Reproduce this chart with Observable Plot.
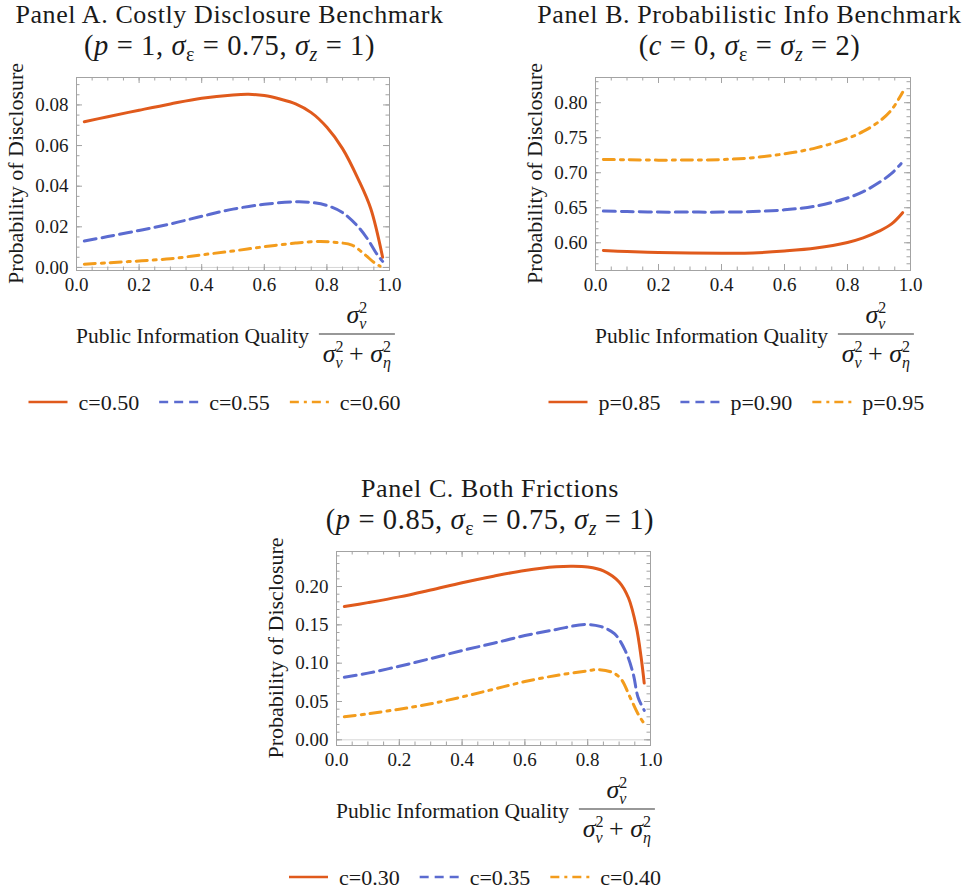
<!DOCTYPE html>
<html><head><meta charset="utf-8">
<script src="https://cdn.jsdelivr.net/npm/d3@7"></script>
<script src="https://cdn.jsdelivr.net/npm/@observablehq/plot@0.6"></script>
<style>
html,body{margin:0;padding:0;background:#fff;}
#root{position:relative;width:969px;height:890px;overflow:hidden;background:#fff;}
#root svg{position:absolute;}
</style></head><body><div id="root"></div>
<script>
// ---------- shared axis ticks ----------
const xMajorTicks = [0, 0.2, 0.4, 0.6, 0.8, 1.0];
const xTickLabels = ["0.0", "0.2", "0.4", "0.6", "0.8", "1.0"];

// ---------- Panel A: Costly Disclosure Benchmark ----------
const yTicksA = [0, 0.02, 0.04, 0.06, 0.08];
const yTickLabelsA = ["0.00", "0.02", "0.04", "0.06", "0.08"];
const seriesNamesA = ["c=0.50", "c=0.55", "c=0.60"];
const xA_050 = [0.025, 0.1, 0.2, 0.3, 0.4, 0.5, 0.55, 0.6, 0.65, 0.7, 0.75, 0.8, 0.85, 0.9, 0.94, 0.978];
const yA_050 = [0.0717, 0.0742, 0.0774, 0.0805, 0.0833, 0.0849, 0.0852, 0.0846, 0.0829, 0.0805, 0.0762, 0.0690, 0.0585, 0.0435, 0.0290, 0.0050];
const xA_055 = [0.025, 0.1, 0.2, 0.3, 0.4, 0.5, 0.6, 0.7, 0.75, 0.8, 0.85, 0.9, 0.93, 0.96, 0.978];
const yA_055 = [0.0130, 0.0152, 0.0182, 0.0214, 0.0252, 0.0287, 0.0311, 0.0323, 0.0320, 0.0305, 0.0270, 0.0200, 0.0140, 0.0065, 0.0030];
const xA_060 = [0.025, 0.1, 0.2, 0.3, 0.4, 0.5, 0.6, 0.7, 0.78, 0.83, 0.88, 0.92, 0.95, 0.97];
const yA_060 = [0.0016, 0.0023, 0.0032, 0.0043, 0.0062, 0.0081, 0.0102, 0.0120, 0.0128, 0.0123, 0.0110, 0.0065, 0.0025, 0.0006];

// ---------- Panel B: Probabilistic Info Benchmark ----------
const yTicksB = [0.60, 0.65, 0.70, 0.75, 0.80];
const yTickLabelsB = ["0.60", "0.65", "0.70", "0.75", "0.80"];
const seriesNamesB = ["p=0.85", "p=0.90", "p=0.95"];
const xB_085 = [0.025, 0.1, 0.2, 0.3, 0.4, 0.5, 0.6, 0.7, 0.8, 0.85, 0.9, 0.94, 0.975];
const yB_085 = [0.5889, 0.5875, 0.5862, 0.5855, 0.5852, 0.5855, 0.5882, 0.5925, 0.6005, 0.6070, 0.6165, 0.6270, 0.6430];
const xB_090 = [0.025, 0.1, 0.2, 0.3, 0.4, 0.5, 0.6, 0.7, 0.8, 0.85, 0.9, 0.94, 0.97];
const yB_090 = [0.6452, 0.6445, 0.6438, 0.6438, 0.6438, 0.6445, 0.6470, 0.6525, 0.6640, 0.6730, 0.6860, 0.6990, 0.7130];
const xB_095 = [0.025, 0.1, 0.2, 0.3, 0.4, 0.5, 0.6, 0.7, 0.8, 0.85, 0.9, 0.94, 0.975];
const yB_095 = [0.7190, 0.7185, 0.7180, 0.7182, 0.7188, 0.7215, 0.7270, 0.7355, 0.7490, 0.7590, 0.7730, 0.7900, 0.8150];

// ---------- Panel C: Both Frictions ----------
const yTicksC = [0, 0.05, 0.10, 0.15, 0.20];
const yTickLabelsC = ["0.00", "0.05", "0.10", "0.15", "0.20"];
const seriesNamesC = ["c=0.30", "c=0.35", "c=0.40"];
const xC_030 = [0.025, 0.1, 0.2, 0.3, 0.4, 0.5, 0.6, 0.7, 0.75, 0.8, 0.85, 0.9, 0.93, 0.955, 0.97, 0.98];
const yC_030 = [0.1739, 0.1790, 0.1865, 0.1955, 0.2050, 0.2135, 0.2210, 0.2258, 0.2265, 0.2255, 0.2205, 0.2060, 0.1850, 0.1470, 0.1080, 0.0740];
const xC_035 = [0.025, 0.1, 0.2, 0.3, 0.4, 0.5, 0.6, 0.7, 0.79, 0.84, 0.885, 0.92, 0.945, 0.96, 0.98];
const yC_035 = [0.0817, 0.0870, 0.0960, 0.1060, 0.1165, 0.1260, 0.1360, 0.1440, 0.1504, 0.1480, 0.1385, 0.1160, 0.0860, 0.0560, 0.0385];
const xC_040 = [0.025, 0.1, 0.2, 0.3, 0.4, 0.5, 0.6, 0.7, 0.8, 0.83, 0.875, 0.905, 0.935, 0.96, 0.98];
const yC_040 = [0.0300, 0.0340, 0.0400, 0.0470, 0.0560, 0.0660, 0.0760, 0.0840, 0.0900, 0.0917, 0.0885, 0.0800, 0.0555, 0.0340, 0.0210];

// ---------- styles ----------
const colors = ["#e05a1c", "#5b6bd0", "#f39c1c"];
const dashes = [null, "12,6", "11,6,3,6"];
const legendDashes = [null, "9,6", "9,5,3,5"];
const gray = "#a3a3a3";
const serif = "'Liberation Serif', 'Times New Roman', serif";
const ink = "#1a1a1a";

const xMinorTicks = d3.range(0, 21).map(i => i * 0.05);

const root = document.getElementById("root");

function makePanel(p) {
  const ml = p.fl - p.sx, mr = p.sx + p.W - p.fr, mt = p.ft - p.sy, mb = p.sy + p.H - p.fb;
  const fh = p.fb - p.ft, fw = p.fr - p.fl;
  const yLab = new Map(p.yTicks.map((t, i) => [t, p.yLabels[i]]));
  const xLab = new Map(xMajorTicks.map((t, i) => [t, xTickLabels[i]]));
  const marks = [];
  if (p.yDomain[0] < 0) marks.push(Plot.ruleY([0], {stroke: "#d6d6d6", strokeWidth: 1}));
  p.series.forEach((s, k) => {
    marks.push(Plot.line(s.x.map((x, i) => ({x, y: s.y[i]})), {
      x: "x", y: "y", stroke: colors[k], strokeWidth: 3,
      strokeDasharray: dashes[k], curve: "catmull-rom"
    }));
  });
  marks.push(Plot.frame({stroke: gray, strokeWidth: 1}));
  const tk = {stroke: gray, strokeWidth: 1};
  marks.push(Plot.tickX(xMajorTicks, {x: d => d, ...tk, insetTop: fh - 6}));
  marks.push(Plot.tickX(xMajorTicks, {x: d => d, ...tk, insetBottom: fh - 6}));
  marks.push(Plot.tickX(xMinorTicks, {x: d => d, ...tk, insetTop: fh - 3.5}));
  marks.push(Plot.tickX(xMinorTicks, {x: d => d, ...tk, insetBottom: fh - 3.5}));
  marks.push(Plot.tickY(p.yTicks, {y: d => d, ...tk, insetRight: fw - 6}));
  marks.push(Plot.tickY(p.yTicks, {y: d => d, ...tk, insetLeft: fw - 6}));
  marks.push(Plot.tickY(p.yMinor, {y: d => d, ...tk, insetRight: fw - 3.5}));
  marks.push(Plot.tickY(p.yMinor, {y: d => d, ...tk, insetLeft: fw - 3.5}));
  marks.push(Plot.axisX(xMajorTicks, {tickSize: 0, tickPadding: 7, tickFormat: d => xLab.get(d), fontSize: 19, fontFamily: serif, fill: ink, label: null}));
  marks.push(Plot.axisY(p.yTicks, {tickSize: 0, tickPadding: 8, tickFormat: d => yLab.get(d), fontSize: 19, fontFamily: serif, fill: ink, label: null}));
  const svg = Plot.plot({
    width: p.W, height: p.H,
    marginLeft: ml, marginRight: mr, marginTop: mt, marginBottom: mb,
    x: {domain: [0, 1]}, y: {domain: p.yDomain},
    style: {fontFamily: serif, fontSize: "19px", background: "transparent", color: ink, overflow: "visible"},
    marks
  });
  svg.style.position = "absolute";
  svg.style.left = p.sx + "px";
  svg.style.top = p.sy + "px";
  root.appendChild(svg);
}

const panels = [
  {sx: 0, sy: 55, W: 430, H: 250, fl: 76, fr: 389, ft: 77, fb: 270,
   yDomain: [-0.0015, 0.0935], yTicks: yTicksA, yLabels: yTickLabelsA,
   yMinor: d3.range(0, 19).map(i => i * 0.005),
   series: [{x: xA_050, y: yA_050}, {x: xA_055, y: yA_055}, {x: xA_060, y: yA_060}],
   names: seriesNamesA,
   t1: "Panel A. Costly Disclosure Benchmark",
   t2: 'A'},
  {sx: 480, sy: 55, W: 489, H: 250, fl: 595, fr: 910, ft: 77, fb: 270,
   yDomain: [0.5604, 0.836], yTicks: yTicksB, yLabels: yTickLabelsB,
   yMinor: d3.range(57, 84).map(i => i / 100),
   series: [{x: xB_085, y: yB_085}, {x: xB_090, y: yB_090}, {x: xB_095, y: yB_095}],
   names: seriesNamesB,
   t1: "Panel B. Probabilistic Info Benchmark",
   t2: 'B'},
  {sx: 240, sy: 530, W: 450, H: 250, fl: 336, fr: 650, ft: 551, fb: 745,
   yDomain: [-0.0074, 0.2457], yTicks: yTicksC, yLabels: yTickLabelsC,
   yMinor: d3.range(0, 25).map(i => i / 100),
   series: [{x: xC_030, y: yC_030}, {x: xC_035, y: yC_035}, {x: xC_040, y: yC_040}],
   names: seriesNamesC,
   t1: "Panel C. Both Frictions",
   t2: 'C'}
];

panels.forEach(makePanel);

// ---------- overlay text: titles, axis labels, legends ----------
const ov = d3.select(root).append("svg")
  .attr("width", 969).attr("height", 890)
  .style("left", "0px").style("top", "0px").style("pointer-events", "none");

const it = s => `<tspan font-style="italic">${s}</tspan>`;
const sb = (s, italic) => `<tspan font-size="20" dy="6"${italic ? ' font-style="italic"' : ''}>${s}</tspan>`;
const up = s => `<tspan dy="-6">${s}</tspan>`;
const sub2 = {
  A: `(${it("p")} = 1, ${it("σ")}${sb("ε")}${up(" = 0.75, ")}${it("σ")}${sb("z", true)}${up(" = 1)")}`,
  B: `(${it("c")} = 0, ${it("σ")}${sb("ε")}${up(" = ")}${it("σ")}${sb("z", true)}${up(" = 2)")}`,
  C: `(${it("p")} = 0.85, ${it("σ")}${sb("ε")}${up(" = 0.75, ")}${it("σ")}${sb("z", true)}${up(" = 1)")}`
};

function text(x, y, html, size, anchor = "start", extra = {}) {
  const t = ov.append("text").attr("x", x).attr("y", y)
    .attr("font-family", serif).attr("font-size", size)
    .attr("fill", ink).attr("text-anchor", anchor).html(html);
  for (const k in extra) t.attr(k, extra[k]);
  return t;
}

function sigma(subChar, size) {
  // σ with stacked superscript 2 and italic subscript
  return `${it("σ")}<tspan font-size="${size}" dy="-10">2</tspan><tspan font-size="${size}" font-style="italic" dx="-8" dy="16">${subChar}</tspan>`;
}

panels.forEach(p => {
  const fc = (p.fl + p.fr) / 2;
  // titles
  text(fc - 3, p.ft - 54, p.t1, 26, "middle", {"letter-spacing": "0.6"});
  text(fc - 3, p.ft - 22, sub2[p.t2], 28.5, "middle", {"letter-spacing": "0.6"});
  // y label
  text(0, 0, "Probability of Disclosure", 22, "middle", {
    transform: `translate(${p.fl - 61},${(p.ft + p.fb) / 2}) rotate(-90)`,
    "dominant-baseline": "central"
  });
  // x label
  const lab = text(p.fl, p.fb + 73, "Public Information Quality", 21.5, "start");
  const w = lab.node().getComputedTextLength();
  const fx = p.fl + w + 10, fwid = 76, fcx = fx + fwid / 2;
  ov.append("line").attr("x1", fx).attr("x2", fx + fwid)
    .attr("y1", p.fb + 64).attr("y2", p.fb + 64)
    .attr("stroke", "#333").attr("stroke-width", 1.2);
  text(fcx, p.fb + 53, sigma("v", 16), 26, "middle");
  text(fcx, p.fb + 92, `${sigma("v", 16)}<tspan dy="-6"> + </tspan>${sigma("η", 16)}`, 26, "middle");
  // legend
  let lx = fc - 204;
  const ly = p.fb + 132;
  p.names.forEach((nm, k) => {
    const ln = ov.append("line").attr("x1", lx).attr("x2", lx + 39)
      .attr("y1", ly).attr("y2", ly)
      .attr("stroke", colors[k]).attr("stroke-width", 2.5);
    if (legendDashes[k]) ln.attr("stroke-dasharray", legendDashes[k]);
    const t = text(lx + 50, p.fb + 140, nm, 22, "start");
    lx = lx + 50 + t.node().getComputedTextLength() + 20;
  });
});
</script>
</body></html>
